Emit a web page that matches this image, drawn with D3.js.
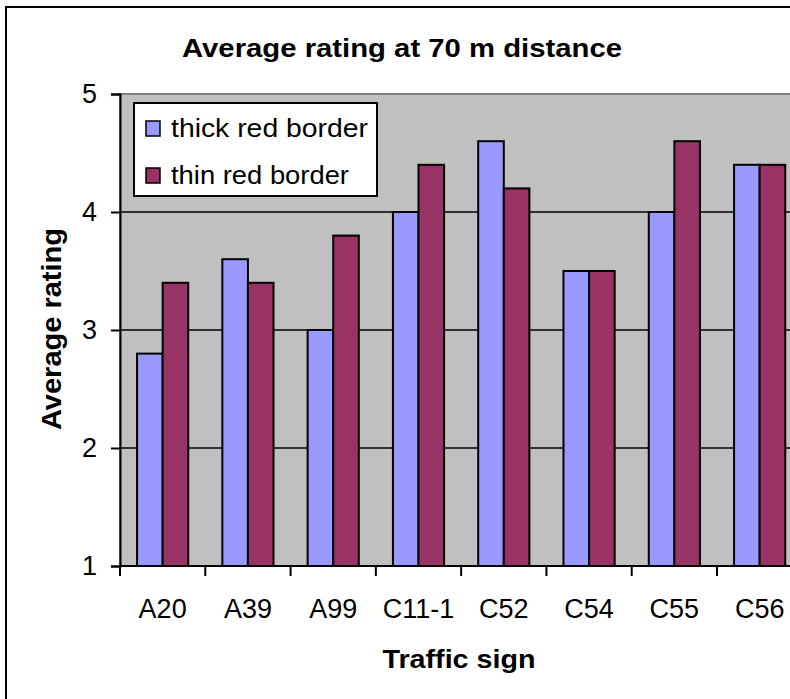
<!DOCTYPE html>
<html>
<head>
<meta charset="utf-8">
<script src="https://cdn.jsdelivr.net/npm/d3@7"></script>
<style>
  html, body { margin: 0; padding: 0; background: #fff; overflow: hidden; }
  text { font-family: "Liberation Sans", Arial, sans-serif; fill: #000; }
</style>
</head>
<body>
<svg id="chart" width="790" height="699"></svg>
<script>
const categories = ["A20", "A39", "A99", "C11-1", "C52", "C54", "C55", "C56"];
const seriesNames = ["thick red border", "thin red border"];
const thickValues = [2.8, 3.6, 3.0, 4.0, 4.6, 3.5, 4.0, 4.4];
const thinValues  = [3.4, 3.4, 3.8, 4.4, 4.2, 3.5, 4.6, 4.4];
const yTicks = [1, 2, 3, 4, 5];
const colors = ["#9999FF", "#993366"];

const svg = d3.select("#chart");
const plot = { left: 120, right: 802.3, top: 94, bottom: 566 };

// outer chart border
svg.append("rect").attr("x", 6).attr("y", 7).attr("width", 792).attr("height", 700)
  .attr("fill", "#fff").attr("stroke", "#000").attr("stroke-width", 2);

const x0 = d3.scaleBand().domain(categories).range([plot.left, plot.right])
  .paddingInner(0.4).paddingOuter(0.2);
const x1 = d3.scaleBand().domain(seriesNames).range([0, x0.bandwidth()]);
const y = d3.scaleLinear().domain([1, 5]).range([plot.bottom, plot.top]);

// plot area
svg.append("rect").attr("x", plot.left).attr("y", plot.top)
  .attr("width", plot.right - plot.left).attr("height", plot.bottom - plot.top)
  .attr("fill", "#C0C0C0").attr("stroke", "#808080").attr("stroke-width", 2);

// gridlines
svg.append("g").selectAll("line").data(yTicks.filter(t => t > 1 && t < 5)).join("line")
  .attr("x1", plot.left).attr("x2", plot.right)
  .attr("y1", d => y(d)).attr("y2", d => y(d))
  .attr("stroke", "#000").attr("stroke-width", 1.5);

// bars
const data = categories.map((c, i) => ({ cat: c, vals: [thickValues[i], thinValues[i]] }));
const groups = svg.append("g").selectAll("g").data(data).join("g")
  .attr("transform", d => `translate(${x0(d.cat)},0)`);
groups.selectAll("rect").data(d => d.vals.map((v, j) => ({ name: seriesNames[j], v, j }))).join("rect")
  .attr("x", d => x1(d.name)).attr("width", x1.bandwidth())
  .attr("y", d => y(d.v)).attr("height", d => y(1) - y(d.v))
  .attr("fill", d => colors[d.j]).attr("stroke", "#000").attr("stroke-width", 2);

// y axis
const yAxis = d3.axisLeft(y).tickValues(yTicks).tickSize(9).tickPadding(14).tickFormat(d3.format("d"));
const gy = svg.append("g").attr("transform", `translate(${plot.left},0)`).call(yAxis);
gy.select(".domain").attr("stroke", "#000").attr("stroke-width", 2);
gy.selectAll(".tick line").attr("stroke", "#000").attr("stroke-width", 2);
gy.selectAll(".tick text").attr("font-size", 27).attr("font-family", "Liberation Sans, Arial, sans-serif").attr("fill", "#000");

// x axis: ticks at category boundaries
const boundaries = categories.map(c => x0(c) - x0.step() * x0.paddingInner() / 2);
boundaries.push(plot.right);
svg.append("line").attr("x1", plot.left).attr("x2", plot.right)
  .attr("y1", plot.bottom).attr("y2", plot.bottom).attr("stroke", "#000").attr("stroke-width", 2);
svg.append("g").selectAll("line").data(boundaries).join("line")
  .attr("x1", d => d).attr("x2", d => d).attr("y1", plot.bottom).attr("y2", plot.bottom + 10)
  .attr("stroke", "#000").attr("stroke-width", 2);
svg.append("g").selectAll("text").data(categories).join("text")
  .attr("x", d => x0(d) + x0.bandwidth() / 2).attr("y", 618)
  .attr("text-anchor", "middle").attr("font-size", 27).text(d => d);

// titles
svg.append("text").attr("x", 402).attr("y", 57).attr("text-anchor", "middle")
  .attr("font-size", 26).attr("font-weight", "bold")
  .attr("textLength", 440).attr("lengthAdjust", "spacingAndGlyphs")
  .text("Average rating at 70 m distance");
svg.append("text").attr("x", 459).attr("y", 668).attr("text-anchor", "middle")
  .attr("font-size", 26).attr("font-weight", "bold")
  .attr("textLength", 153).attr("lengthAdjust", "spacingAndGlyphs")
  .text("Traffic sign");
svg.append("text").attr("transform", "translate(61,329) rotate(-90)").attr("text-anchor", "middle")
  .attr("font-size", 27).attr("font-weight", "bold")
  .attr("textLength", 202).attr("lengthAdjust", "spacingAndGlyphs")
  .text("Average rating");

// legend
const lg = svg.append("g");
lg.append("rect").attr("x", 134).attr("y", 103).attr("width", 243).attr("height", 93)
  .attr("fill", "#fff").attr("stroke", "#000").attr("stroke-width", 2);
const legendWidths = [197, 178];
seriesNames.forEach((name, i) => {
  const yy = 121 + i * 47;
  lg.append("rect").attr("x", 146).attr("y", yy).attr("width", 14).attr("height", 15)
    .attr("fill", colors[i]).attr("stroke", "#000").attr("stroke-width", 1.5);
  lg.append("text").attr("x", 171).attr("y", yy + 16).attr("font-size", 25)
    .attr("textLength", legendWidths[i]).attr("lengthAdjust", "spacingAndGlyphs")
    .text(name);
});
</script>
</body>
</html>
